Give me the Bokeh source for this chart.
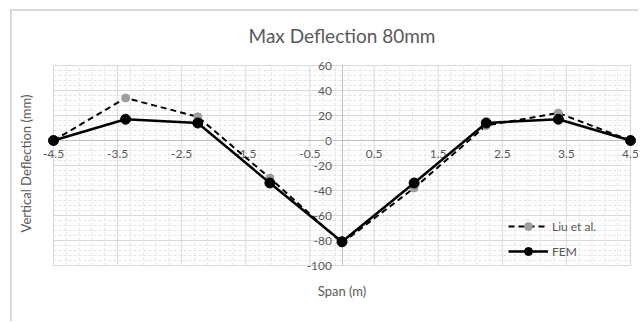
import numpy as np
from bokeh.plotting import figure
from bokeh.models import FixedTicker, Label, Legend, LegendItem, ColumnDataSource
from bokeh.embed import file_html
from bokeh.resources import INLINE

# ---- data ----
span_m = [-4.5, -3.375, -2.25, -1.125, 0.0, 1.125, 2.25, 3.375, 4.5]
liu_deflection = [0, 34, 19, -30, -82, -38, 12, 22, 0]
fem_deflection = [0, 17, 14, -34, -81, -34, 14, 17, 0]

x_ticks = [-4.5, -3.5, -2.5, -1.5, -0.5, 0.5, 1.5, 2.5, 3.5, 4.5]
x_tick_labels = ["-4.5", "-3.5", "-2.5", "-1.5", "-0.5", "0.5", "1.5", "2.5", "3.5", "4.5"]
y_ticks = [-100, -80, -60, -40, -20, 0, 20, 40, 60]
y_tick_labels = ["-100", "-80", "-60", "-40", "-20", "0", "20", "40", "60"]

X_MIN, X_MAX = -4.5, 4.5
Y_MIN, Y_MAX = -100, 60
X_MINOR_STEP, Y_MINOR_STEP = 0.2, 4

FONT = "Lato"
GREY_TXT = "#595959"

# ---- layout (pixels inside the figure) ----
W, H = 628, 312
PAD_L, PAD_R, PAD_T, PAD_B = 41, 10, 54, 58       # plot area inside the figure
sx = (W - PAD_L - PAD_R) / (X_MAX - X_MIN)
sy = (H - PAD_T - PAD_B) / (Y_MAX - Y_MIN)
x_range = (X_MIN - PAD_L / sx, X_MAX + PAD_R / sx)
y_range = (Y_MIN - PAD_B / sy, Y_MAX + PAD_T / sy)

p = figure(width=W, height=H, x_range=x_range, y_range=y_range,
           output_backend="svg", toolbar_location=None, min_border=0)
p.styles = {"margin-left": "10px", "margin-top": "9px",
            "border-left": "2px solid #d9d9d9", "border-top": "2px solid #d9d9d9"}
p.outline_line_color = None
p.background_fill_color = "white"
p.border_fill_color = "white"
p.title.visible = False
p.grid.visible = False

# ---- gridlines of the plot area ----
x_minor = [v for v in np.round(np.arange(X_MIN, X_MAX + 1e-9, X_MINOR_STEP), 3) if v not in x_ticks]
y_minor = [v for v in np.arange(Y_MIN, Y_MAX + 1, Y_MINOR_STEP) if v not in y_ticks]
minor_kw = dict(line_color="#e4e4e4", line_width=1, line_dash="3 2", level="image")
major_kw = dict(line_color="#d9d9d9", line_width=1, level="image")
p.segment(x0=x_minor, x1=x_minor, y0=[Y_MIN] * len(x_minor), y1=[Y_MAX] * len(x_minor), **minor_kw)
p.segment(x0=[X_MIN] * len(y_minor), x1=[X_MAX] * len(y_minor), y0=y_minor, y1=y_minor, **minor_kw)
p.segment(x0=x_ticks, x1=x_ticks, y0=[Y_MIN] * len(x_ticks), y1=[Y_MAX] * len(x_ticks), **major_kw)
p.segment(x0=[X_MIN] * len(y_ticks), x1=[X_MAX] * len(y_ticks), y0=y_ticks, y1=y_ticks, **major_kw)

# ---- axes crossing at the origin ----
p.xaxis[0].ticker = FixedTicker(ticks=x_ticks)
p.yaxis[0].ticker = FixedTicker(ticks=y_ticks)
p.xaxis[0].bounds = (X_MIN, X_MAX)
p.yaxis[0].bounds = (Y_MIN, Y_MAX)
for ax in (p.xaxis[0], p.yaxis[0]):
    ax.fixed_location = 0
    ax.axis_line_color = "#bfbfbf"
    ax.axis_line_width = 1
    ax.major_tick_line_color = None
    ax.minor_tick_line_color = None
    ax.major_label_text_font_size = "0px"
    ax.major_label_text_alpha = 0
    ax.level = "underlay"

# ---- tick labels ----
p.text(x=x_ticks, y=[0] * len(x_ticks), text=x_tick_labels, y_offset=9,
       text_align="center", text_baseline="top", text_font={"value": FONT},
       text_font_size="12px", text_color=GREY_TXT, level="underlay")
p.text(x=[0] * len(y_ticks), y=y_ticks, text=y_tick_labels, x_offset=-10,
       text_align="right", text_baseline="middle", text_font={"value": FONT},
       text_font_size="12px", text_color=GREY_TXT, level="underlay")

# ---- titles ----
p.add_layout(Label(x=0, y=Y_MAX, y_offset=30, text="Max Deflection 80mm", text_align="center",
                   text_baseline="middle", text_font=FONT, text_font_size="19px",
                   text_color=GREY_TXT))
p.add_layout(Label(x=X_MIN, y=(Y_MIN + Y_MAX) / 2, x_offset=-28, y_offset=2, angle=np.pi / 2,
                   text="Vertical Deflection (mm)", text_align="center", text_baseline="middle",
                   text_font=FONT, text_font_size="13px", text_color=GREY_TXT))
p.add_layout(Label(x=0, y=Y_MIN, y_offset=-25, text="Span (m)", text_align="center",
                   text_baseline="middle", text_font=FONT, text_font_size="13px",
                   text_color=GREY_TXT))

# ---- series ----
src = ColumnDataSource(dict(x=span_m, liu=liu_deflection, fem=fem_deflection))
liu_line = p.line("x", "liu", source=src, line_color="black", line_width=2, line_dash="6 4")
liu_pts = p.scatter("x", "liu", source=src, size=8, fill_color="#9e9e9e", line_color="#9e9e9e")
fem_line = p.line("x", "fem", source=src, line_color="black", line_width=2.5)
fem_pts = p.scatter("x", "fem", source=src, size=10, fill_color="black", line_color="black")

legend = Legend(items=[LegendItem(label="Liu et al.", renderers=[liu_line, liu_pts]),
                       LegendItem(label="FEM", renderers=[fem_line, fem_pts])],
                location=(PAD_L + 455, PAD_B + 4), padding=0, margin=0, spacing=5,
                glyph_width=40, glyph_height=20, label_standoff=4,
                label_text_font=FONT, label_text_font_size="12px", label_text_color=GREY_TXT,
                background_fill_alpha=0, border_line_color=None)
p.add_layout(legend)

open("out.html", "w").write(file_html(p, INLINE))
